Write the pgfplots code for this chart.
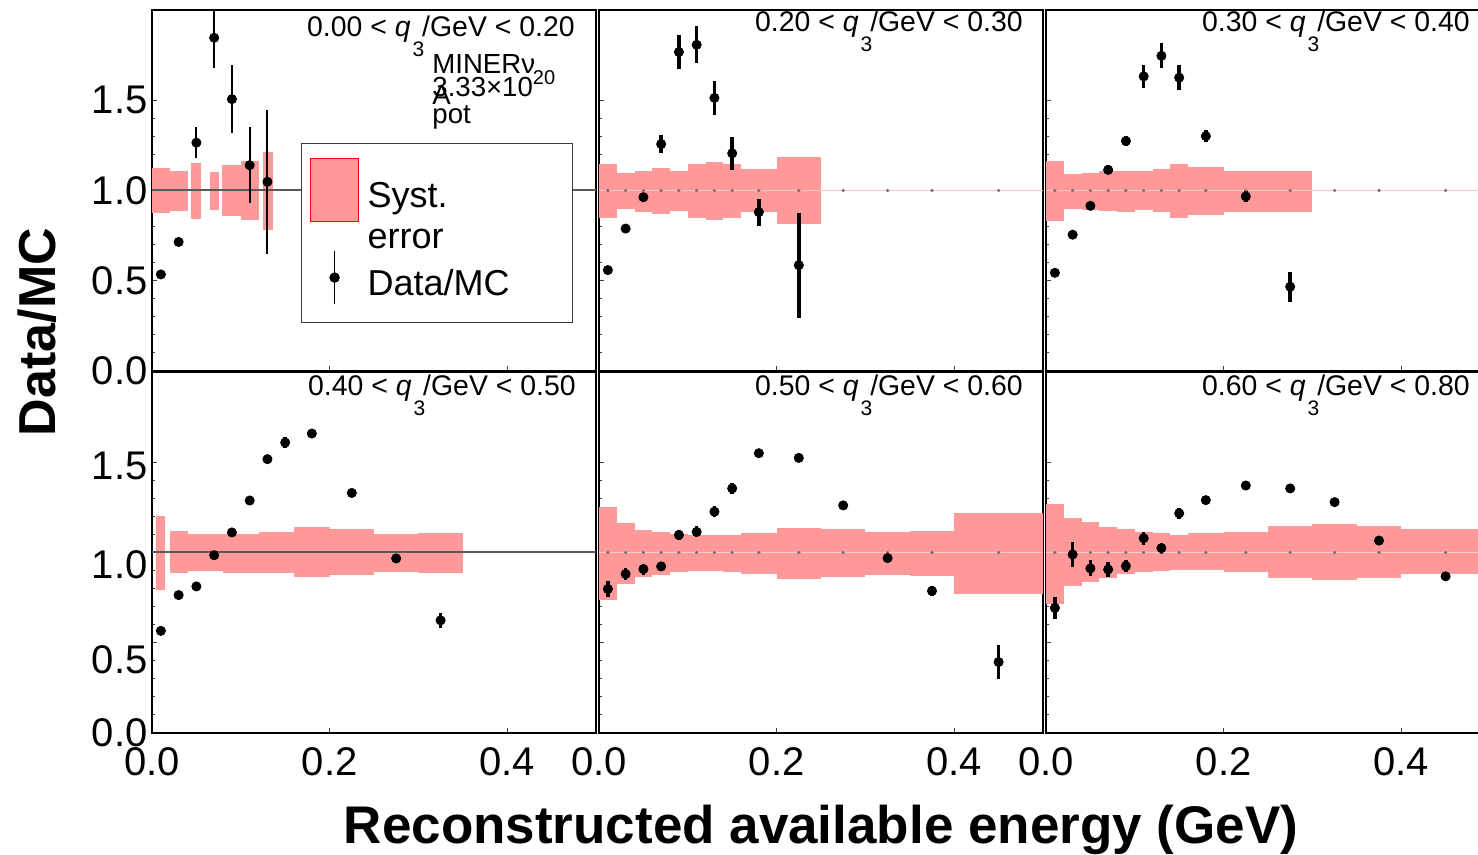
\documentclass[border=0pt]{standalone}
\usepackage{fontspec}
\setmainfont{Liberation Sans}
\usepackage{pgfplots}
\pgfplotsset{compat=1.18}
\definecolor{band}{RGB}{255,153,153}
\definecolor{unity}{RGB}{255,200,200}
\definecolor{refline}{RGB}{90,90,90}
\pgfplotsset{
  panel/.style={anchor=south west, scale only axis, width=222pt, height=180.5pt,
    xmin=0, xmax=0.5, ymin=0, ymax=2,
    xtick={0,0.2,0.4}, ytick={0,0.5,1,1.5}, minor y tick num=4,
    xtick pos=left, ytick pos=left, tick align=inside,
    major tick length=2.5pt, minor tick length=1.5pt,
    every tick/.style={black!75, line width=0.5pt},
    axis line style={line width=1.1pt, black},
    xticklabel=\empty, yticklabel=\empty,
    tick label style={font=\fontsize{20}{24}\selectfont},
    yticklabel style={inner sep=0pt, xshift=-2pt},
    xticklabel style={inner sep=0pt, yshift=-7pt}},
  ylab/.style={yticklabels={0.0,0.5,1.0,1.5}},
  xlab/.style={xticklabels={0.0,0.2,0.4}},
  syst/.style={fill=band, draw=none, forget plot},
  dmc/.style={only marks, mark=*, mark size=2.3pt, black, forget plot,
    error bars/y dir=both, error bars/y explicit, error bars/error mark=none,
    error bars/error bar style={line width=#1, black}},
  dmc/.default=1.8pt,
  refl/.style={refline, line width=1pt, forget plot},
  unit/.style={unity, line width=0.6pt, forget plot},
  mcpts/.style={only marks, mark=*, mark size=0.6pt, black!55, forget plot},
}
\newcommand{\band}[4]{\addplot[syst] coordinates {(#1,#3) (#2,#3) (#2,#4) (#1,#4)};}
\newcommand{\lab}{\fontsize{14.2}{16}\selectfont}
\newcommand{\qlab}[2]{#1 < \textit{q}\hspace{1pt}\raisebox{-10pt}{\fontsize{10.5}{10}\selectfont 3}\hspace{-1pt}/GeV < #2}
\newcommand{\mt}{\fontsize{13.8}{15}\selectfont}
\begin{document}
\begin{tikzpicture}
\useasboundingbox (0,0) rectangle (739pt,427.5pt);

% ---------- panel 1 ----------
\begin{axis}[panel, ylab, at={(76pt,242pt)},
  legend style={at={(0.3356,0.6316)}, anchor=north west,
    draw={rgb,255:red,60;green,60;blue,60}, line width=0.6pt, fill=white,
    inner xsep=4.5pt, inner ysep=6.5pt,
    font=\fontsize{18}{23}\selectfont,
    cells={anchor=base west}, row sep=0pt,
    /tikz/every odd column/.append style={column sep=2.5pt}}]
\band{0.000}{0.0207}{0.875}{1.123}
\band{0.0207}{0.040}{0.884}{1.110}
\band{0.044}{0.055}{0.844}{1.154}
\band{0.065}{0.075}{0.890}{1.105}
\band{0.079}{0.0997}{0.857}{1.143}
\band{0.0997}{0.121}{0.835}{1.165}
\band{0.125}{0.136}{0.780}{1.215}
\addplot[refl] coordinates {(0,1) (0.5,1)};
\addplot[dmc=1pt] table[x=x,y=y,y error=e] {
x y e
0.01 0.535 0.02
0.03 0.715 0.02
0.05 1.265 0.086
0.07 1.846 0.165
0.09 1.506 0.19
0.11 1.140 0.21
0.13 1.048 0.40
};
\addlegendimage{legend image code/.code={\filldraw[overlay, fill=band, draw=red, line width=0.8pt] (0pt,-7pt) rectangle (24pt,24.5pt); \path[draw=none] (0pt,0pt) (24pt,0pt);}}
\addlegendentry{\makebox[96pt][l]{\rule[-8pt]{0pt}{31.5pt}Syst.}}
\addlegendimage{empty legend}
\addlegendentry{\makebox[96pt][l]{\rule[-5pt]{0pt}{20pt}error}}
\addlegendimage{legend image code/.code={\draw[overlay, black, line width=0.5pt] (12pt,-4pt) -- (12pt,22.5pt); \fill[overlay, black] (12pt,9pt) circle (2.3pt); \path[draw=none] (0pt,-7pt) (24pt,0pt);}}
\addlegendentry{\makebox[96pt][l]{\rule[-7pt]{0pt}{25pt}Data/MC}}
\end{axis}

% ---------- panel 2 ----------
\begin{axis}[panel, at={(299.5pt,242pt)}]
\band{0.00}{0.02}{0.847}{1.147}
\band{0.02}{0.04}{0.899}{1.096}
\band{0.04}{0.06}{0.881}{1.110}
\band{0.06}{0.08}{0.869}{1.123}
\band{0.08}{0.10}{0.888}{1.108}
\band{0.10}{0.12}{0.847}{1.149}
\band{0.12}{0.14}{0.835}{1.156}
\band{0.14}{0.16}{0.847}{1.149}
\band{0.16}{0.20}{0.879}{1.118}
\band{0.20}{0.25}{0.814}{1.184}
\addplot[unit] coordinates {(0,1) (0.5,1)};
\addplot[mcpts] coordinates {(0.01,1) (0.03,1) (0.05,1) (0.07,1) (0.09,1) (0.11,1) (0.13,1) (0.15,1) (0.18,1) (0.225,1) (0.275,1) (0.325,1) (0.375,1) (0.45,1)};
\addplot[dmc] table[x=x,y=y,y error=e] {
x y e
0.01 0.559 0.015
0.03 0.789 0.015
0.05 0.963 0.025
0.07 1.257 0.05
0.09 1.767 0.092
0.11 1.807 0.103
0.13 1.513 0.094
0.15 1.206 0.092
0.18 0.880 0.075
0.225 0.586 0.29
};
\end{axis}

% ---------- panel 3 ----------
\begin{axis}[panel, at={(523pt,242pt)}]
\band{0.00}{0.02}{0.829}{1.164}
\band{0.02}{0.04}{0.899}{1.092}
\band{0.04}{0.06}{0.890}{1.096}
\band{0.06}{0.08}{0.888}{1.108}
\band{0.08}{0.10}{0.879}{1.108}
\band{0.10}{0.12}{0.890}{1.108}
\band{0.12}{0.14}{0.881}{1.118}
\band{0.14}{0.16}{0.847}{1.145}
\band{0.16}{0.20}{0.866}{1.129}
\band{0.20}{0.25}{0.881}{1.108}
\band{0.25}{0.30}{0.881}{1.110}
\addplot[unit] coordinates {(0,1) (0.5,1)};
\addplot[mcpts] coordinates {(0.01,1) (0.03,1) (0.05,1) (0.07,1) (0.09,1) (0.11,1) (0.13,1) (0.15,1) (0.18,1) (0.225,1) (0.275,1) (0.325,1) (0.375,1) (0.45,1)};
\addplot[dmc] table[x=x,y=y,y error=e] {
x y e
0.01 0.544 0.015
0.03 0.755 0.015
0.05 0.915 0.02
0.07 1.114 0.025
0.09 1.274 0.03
0.11 1.632 0.062
0.13 1.746 0.07
0.15 1.625 0.07
0.18 1.301 0.035
0.225 0.967 0.03
0.275 0.467 0.083
};
\end{axis}

% ---------- panel 4 ----------
\begin{axis}[panel, xlab, at={(76pt,61pt)},
  yticklabels={0.0,{},{},{}},
  extra y ticks={0.407,0.934,1.478}, extra y tick labels={0.5,1.0,1.5},
  extra y tick style={major tick length=0pt}]
\band{0.005}{0.015}{0.793}{1.203}
\band{0.020}{0.040}{0.886}{1.120}
\band{0.040}{0.080}{0.895}{1.105}
\band{0.080}{0.120}{0.889}{1.105}
\band{0.120}{0.160}{0.884}{1.111}
\band{0.160}{0.200}{0.862}{1.142}
\band{0.200}{0.250}{0.873}{1.131}
\band{0.250}{0.300}{0.893}{1.101}
\band{0.300}{0.350}{0.889}{1.109}
\addplot[refl] coordinates {(0,1) (0.5,1)};
\addplot[dmc] table[x=x,y=y,y error=e] {
x y e
0.01 0.566 0.01
0.03 0.764 0.01
0.05 0.812 0.01
0.07 0.985 0.01
0.09 1.111 0.015
0.11 1.288 0.02
0.13 1.517 0.025
0.15 1.609 0.03
0.18 1.659 0.025
0.225 1.330 0.015
0.275 0.967 0.015
0.325 0.624 0.04
};
\end{axis}

% ---------- panel 5 ----------
\begin{axis}[panel, xlab, at={(299.5pt,61pt)}]
\band{0.00}{0.02}{0.737}{1.252}
\band{0.02}{0.04}{0.825}{1.165}
\band{0.04}{0.06}{0.866}{1.125}
\band{0.06}{0.08}{0.875}{1.116}
\band{0.08}{0.10}{0.890}{1.105}
\band{0.10}{0.12}{0.899}{1.096}
\band{0.12}{0.14}{0.899}{1.096}
\band{0.14}{0.16}{0.890}{1.097}
\band{0.16}{0.20}{0.881}{1.107}
\band{0.20}{0.25}{0.853}{1.138}
\band{0.25}{0.30}{0.862}{1.129}
\band{0.30}{0.35}{0.877}{1.116}
\band{0.35}{0.40}{0.871}{1.118}
\band{0.40}{0.50}{0.770}{1.221}
\addplot[unit] coordinates {(0,1) (0.5,1)};
\addplot[mcpts] coordinates {(0.01,1) (0.03,1) (0.05,1) (0.07,1) (0.09,1) (0.11,1) (0.13,1) (0.15,1) (0.18,1) (0.225,1) (0.275,1) (0.325,1) (0.375,1) (0.45,1)};
\addplot[dmc] table[x=x,y=y,y error=e] {
x y e
0.01 0.798 0.045
0.03 0.881 0.035
0.05 0.908 0.03
0.07 0.923 0.025
0.09 1.097 0.03
0.11 1.114 0.03
0.13 1.226 0.03
0.15 1.355 0.03
0.18 1.550 0.02
0.225 1.524 0.02
0.275 1.261 0.02
0.325 0.969 0.02
0.375 0.787 0.03
0.45 0.393 0.094
};
\end{axis}

% ---------- panel 6 ----------
\begin{axis}[panel, xlab, at={(523pt,61pt)}]
\band{0.00}{0.02}{0.715}{1.270}
\band{0.02}{0.04}{0.814}{1.193}
\band{0.04}{0.06}{0.835}{1.171}
\band{0.06}{0.08}{0.860}{1.143}
\band{0.08}{0.10}{0.879}{1.129}
\band{0.10}{0.12}{0.890}{1.116}
\band{0.12}{0.14}{0.897}{1.110}
\band{0.14}{0.16}{0.903}{1.097}
\band{0.16}{0.20}{0.903}{1.107}
\band{0.20}{0.25}{0.890}{1.116}
\band{0.25}{0.30}{0.857}{1.147}
\band{0.30}{0.35}{0.847}{1.156}
\band{0.35}{0.40}{0.857}{1.147}
\band{0.40}{0.50}{0.879}{1.129}
\addplot[unit] coordinates {(0,1) (0.5,1)};
\addplot[mcpts] coordinates {(0.01,1) (0.03,1) (0.05,1) (0.07,1) (0.09,1) (0.11,1) (0.13,1) (0.15,1) (0.18,1) (0.225,1) (0.275,1) (0.325,1) (0.375,1) (0.45,1)};
\addplot[dmc] table[x=x,y=y,y error=e] {
x y e
0.01 0.693 0.06
0.03 0.989 0.067
0.05 0.912 0.045
0.07 0.906 0.04
0.09 0.925 0.035
0.11 1.079 0.035
0.13 1.024 0.03
0.15 1.217 0.03
0.18 1.290 0.02
0.225 1.371 0.02
0.275 1.355 0.02
0.325 1.279 0.02
0.375 1.066 0.02
0.45 0.868 0.02
};
\end{axis}

% ---------- texts ----------
\node[anchor=base east, inner sep=0pt, font=\lab] at (287.5pt,409pt) {\qlab{0.00}{0.20}};
\node[anchor=base east, inner sep=0pt, font=\lab] at (511.5pt,411.5pt) {\qlab{0.20}{0.30}};
\node[anchor=base east, inner sep=0pt, font=\lab] at (735pt,411.5pt) {\qlab{0.30}{0.40}};
\node[anchor=base east, inner sep=0pt, font=\lab] at (288pt,229.5pt) {\qlab{0.40}{0.50}};
\node[anchor=base east, inner sep=0pt, font=\lab] at (511.5pt,229.5pt) {\qlab{0.50}{0.60}};
\node[anchor=base east, inner sep=0pt, font=\lab] at (735pt,229.5pt) {\qlab{0.60}{0.80}};

\node[anchor=base west, inner sep=0pt, font=\mt] at (216pt,390.5pt) {MINERν};
\node[anchor=base west, inner sep=0pt, font=\mt] at (216pt,379pt) {3.33×10\raisebox{6pt}{\fontsize{10}{10}\selectfont 20}};
\node[anchor=base west, inner sep=0pt, font=\mt] at (216pt,375pt) {A};
\node[anchor=base west, inner sep=0pt, font=\mt] at (216pt,365.5pt) {pot};

\node[anchor=base, rotate=90, inner sep=0pt, font=\fontsize{26}{30}\selectfont\bfseries] at (27.5pt,261.5pt) {Data/MC};
\node[anchor=base, inner sep=0pt, font=\fontsize{26.5}{30}\selectfont\bfseries] at (410.5pt,5.5pt) {Reconstructed available energy (GeV)};
\end{tikzpicture}
\end{document}
